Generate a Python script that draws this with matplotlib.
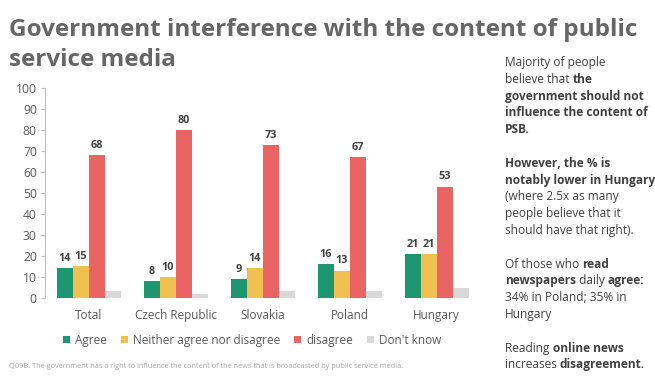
import matplotlib
matplotlib.use("Agg")
import matplotlib.pyplot as plt
import numpy as np
from matplotlib.patches import Patch

categories = ["Total", "Czech Republic", "Slovakia", "Poland", "Hungary"]
series_names = ["Agree", "Neither agree nor disagree", "disagree", "Don't know"]
agree = [14, 8, 9, 16, 21]
neither = [15, 10, 14, 13, 21]
disagree = [68, 80, 73, 67, 53]
dont_know = [3.5, 2, 3.5, 3.5, 4.5]
yticks = [0, 10, 20, 30, 40, 50, 60, 70, 80, 90, 100]

colors = ["#1e9670", "#f0c050", "#eb6464", "#d9d9d9"]
series = [agree, neither, disagree, dont_know]
labelled = [True, True, True, False]

plt.rcParams['font.family'] = ['Open Sans', 'DejaVu Sans']
txt = "#595959"

fig = plt.figure(figsize=(6.55, 3.78), dpi=100)
ax = fig.add_axes([0.069, 0.212, 0.664, 0.555])

x = np.arange(len(categories))
w = 0.184
for i, (vals, c, lab) in enumerate(zip(series, colors, labelled)):
    pos = x + (i - 1.5) * w
    bars = ax.bar(pos, vals, width=w, color=c, label=series_names[i])
    if lab:
        for b, v in zip(bars, vals):
            ax.text(b.get_x() + b.get_width() / 2, v + 2, f"{v:g}",
                    ha="center", va="bottom", fontsize=7.8, fontweight="bold",
                    color="#404040")

ax.set_xlim(-0.5, len(categories) - 0.5)
ax.set_ylim(0, 100)
ax.set_yticks(yticks)
ax.set_xticks(x)
ax.set_xticklabels(categories, fontsize=8.5, color=txt)
ax.tick_params(axis="x", length=0, pad=8)
ax.tick_params(axis="y", labelsize=8.7, labelcolor=txt, color="#bfbfbf", length=3, pad=3)
for s in ["top", "right", "bottom"]:
    ax.spines[s].set_visible(False)
ax.spines["left"].set_color("#bfbfbf")
ax.spines["left"].set_linewidth(0.8)

handles = [Patch(facecolor=c) for c in colors]
fig.legend(handles, series_names, loc="center", bbox_to_anchor=(0.385, 0.1),
           ncol=4, frameon=False, fontsize=8.5, handlelength=0.6, handleheight=0.6,
           handletextpad=0.4, columnspacing=1.2, labelcolor=txt)

fig.text(0.014, 1 - 36 / 378, "Government interference with the content of public",
         ha="left", va="baseline", fontsize=17.5, fontweight="bold", color="#666666")
fig.text(0.014, 1 - 66 / 378, "service media",
         ha="left", va="baseline", fontsize=17.5, fontweight="bold", color="#666666")

fig.text(0.014, 0.02,
         "Q09B. The government has a right to influence the content of the news that is broadcasted by public service media.",
         ha="left", va="bottom", fontsize=5.3, color="#a6a6a6")

# Right side commentary with mixed bold
right_lines = [
    [("Majority of people", False)],
    [("believe that ", False), ("the", True)],
    [("government should not", True)],
    [("influence the content of", True)],
    [("PSB.", True)],
    [],
    [("However, the % is", True)],
    [("notably lower in Hungary", True)],
    [("(where 2.5x as many", False)],
    [("people believe that it", False)],
    [("should have that right).", False)],
    [],
    [("Of those who ", False), ("read", True)],
    [("newspapers", True), (" daily ", False), ("agree:", True)],
    [("34% in Poland; 35% in", False)],
    [("Hungary", False)],
    [],
    [("Reading ", False), ("online news", True)],
    [("increases ", False), ("disagreement.", True)],
]

fig.canvas.draw()
renderer = fig.canvas.get_renderer()
x0_px = 505
y_px = 66
line_h = 16.8
H = 378
for line in right_lines:
    xp = x0_px
    for seg, bold in line:
        t = fig.text(xp / 655, 1 - y_px / H, seg, ha="left", va="baseline",
                     fontsize=8.6, fontweight="bold" if bold else "normal",
                     color="#404040")
        bb = t.get_window_extent(renderer=renderer)
        xp += bb.width
    y_px += line_h

fig.savefig("out.png", dpi=100)
